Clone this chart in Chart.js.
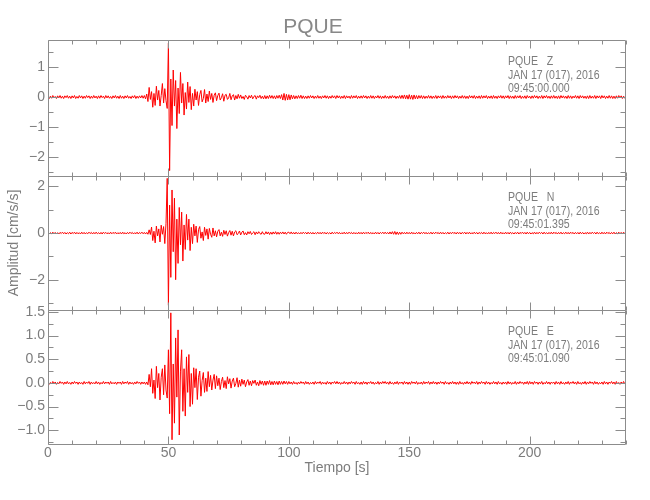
<!DOCTYPE html>
<html>
<head>
<meta charset="utf-8">
<title>PQUE</title>
<script src="https://cdn.jsdelivr.net/npm/chart.js@4.4.0/dist/chart.umd.min.js"></script>
<style>
  body { margin: 0; background: #fff; }
</style>
</head>
<body>
<canvas id="seismo-chart" width="650" height="500"></canvas>
<script>
const station = 'PQUE'
const components = ['Z', 'N', 'E']
const eventDate = 'JAN 17 (017), 2016'
const startTimes = ['09:45:00.000', '09:45:01.395', '09:45:01.090']
const sampleStep = 0.5 // seconds between samples
const timeTicks = [0, 50, 100, 150, 200]
const zTicks = [-2, -1, 0, 1]
const nTicks = [-2, 0, 2]
const eTicks = [-1, -0.5, 0, 0.5, 1, 1.5]
const zMinor = [-2.5, -1.5, -0.5, 0.5, 1.5]
const nMinor = [-3, -1, 1]
const eMinor = [-1.25, -0.75, -0.25, 0.25, 0.75, 1.25]

// acceleration, cm/s/s, one row = 10 s
const zValues = [
  .04,-.05,.03,-.04,.05,-.03,.02,-.05,.04,-.03,.05,-.04,.03,-.05,.04,-.02,.05,-.04,.03,-.05,
  .04,-.03,.05,-.05,.02,-.04,.05,-.03,.04,-.05,.03,-.04,.05,-.02,.04,-.05,.03,-.04,.05,-.03,
  .03,-.05,.04,-.04,.05,-.02,.03,-.05,.05,-.03,.04,-.04,.02,-.05,.04,-.03,.05,-.04,.03,-.05,
  .05,-.04,.03,-.05,.04,-.03,.05,-.04,.02,-.05,.04,-.03,.05,-.05,.03,-.04,.04,-.03,.05,-.04,
  .05,-.06,.1,-.15,.32,-.08,.18,-.34,.12,-.28,.36,-.1,.22,-.3,.05,.45,-.2,.28,-.12,-.38,
  1.8,-2.45,.6,-.95,.9,-.3,.55,-1.05,.3,-.55,.82,-.2,.45,-.6,.15,-.4,.5,-.18,.35,-.42,
  .12,-.3,.26,-.1,.18,-.28,.08,.22,-.16,-.05,.25,-.2,.1,-.15,.2,-.08,.12,-.18,.06,.14,
  -.12,.05,.13,-.1,-.02,.11,-.14,.06,.09,-.08,-.03,.12,-.09,.04,.08,-.1,.05,-.06,.09,-.04,
  .07,-.05,.02,-.08,.06,.01,-.07,.05,-.03,.06,-.06,.02,.05,-.07,.04,-.02,.06,-.05,.03,-.06,
  .05,-.06,.04,-.05,.06,-.04,.05,-.05,.04,-.06,.05,-.04,.06,-.05,.08,-.1,.12,-.11,.09,-.1,
  .08,-.09,.07,-.06,.05,-.06,.04,-.05,.05,-.04,.06,-.05,.04,-.05,.03,-.05,.04,-.04,.05,-.03,
  .04,-.05,.03,-.04,.05,-.04,.03,-.05,.04,-.03,.05,-.04,.04,-.05,.03,-.04,.05,-.03,.04,-.05,
  .05,-.03,.04,-.05,.03,-.04,.05,-.05,.04,-.03,.03,-.05,.05,-.04,.04,-.03,.05,-.05,.03,-.04,
  .04,-.04,.05,-.03,.04,-.05,.03,-.04,.05,-.04,.04,-.05,.03,-.03,.05,-.04,.04,-.05,.03,-.04,
  .05,-.04,.03,-.05,.04,-.04,.05,-.03,.04,-.05,.03,-.04,.05,-.05,.06,-.05,.07,-.06,.06,-.07,
  .08,-.07,.06,-.08,.07,-.06,.05,-.06,.05,-.04,.05,-.05,.04,-.05,.03,-.04,.05,-.04,.04,-.05,
  .03,-.04,.05,-.05,.04,-.03,.04,-.05,.05,-.04,.03,-.04,.05,-.03,.04,-.05,.04,-.04,.05,-.03,
  .04,-.05,.03,-.04,.05,-.04,.04,-.05,.03,-.05,.05,-.03,.04,-.04,.05,-.05,.03,-.04,.04,-.05,
  .05,-.04,.04,-.03,.05,-.05,.03,-.04,.04,-.05,.05,-.04,.03,-.05,.04,-.03,.05,-.04,.04,-.05,
  .04,-.03,.05,-.05,.04,-.04,.03,-.05,.05,-.04,.04,-.03,.05,-.05,.03,-.04,.04,-.05,.05,-.03,
  .03,-.05,.04,-.04,.05,-.03,.04,-.05,.03,-.04,.05,-.05,.04,-.03,.05,-.04,.03,-.05,.04,-.04,
  .05,-.04,.03,-.05,.04,-.05,.05,-.03,.04,-.04,.03,-.05,.05,-.04,.04,-.05,.03,-.03,.05,-.04,
  .04,-.05,.05,-.03,.04,-.04,.03,-.05,.04,-.05,.05,-.04,.03,-.04,.05,-.05,.04,-.03,.04,-.05,
  .05,-.03,.04,-.05,.03,-.04,.05,-.04,.04,-.05,.03,-.05,.04,-.04,.05,-.03,.04,-.05,.03,-.04,
  .04
]

const nValues = [
  .03,-.04,.02,-.03,.04,-.03,.03,-.04,.02,-.04,.03,-.02,.04,-.03,.03,-.04,.02,-.03,.04,-.04,
  .03,-.02,.04,-.04,.03,-.03,.02,-.04,.04,-.03,.03,-.04,.02,-.03,.04,-.02,.03,-.04,.03,-.03,
  .04,-.03,.02,-.04,.03,-.04,.04,-.02,.03,-.03,.02,-.04,.04,-.03,.03,-.02,.04,-.04,.02,-.03,
  .03,-.04,.04,-.03,.02,-.04,.03,-.03,.04,-.02,.03,-.04,.02,-.03,.04,-.04,.03,-.02,.04,-.03,
  .03,-.04,.03,-.05,.14,-.06,.26,-.32,.08,-.42,.3,-.12,.18,-.38,.34,-.05,.28,-.45,.4,2.35,
  -3.1,1.2,-1.9,1.85,-.8,1.5,-2.0,.6,-1.3,1.1,-.5,.9,-1.2,.35,-.7,.8,-.3,.6,-.75,.25,
  -.45,.38,-.12,.3,-.4,.15,.28,-.22,.05,-.32,.25,-.1,.18,-.26,.2,-.05,-.18,.22,-.12,.1,
  -.16,.08,.15,-.12,.04,-.14,.12,-.06,.1,-.13,.02,.11,-.09,.08,-.12,.05,.1,-.07,-.02,.09,
  -.08,.04,.09,-.07,.02,-.08,.06,-.03,.07,-.06,.01,.06,-.07,.05,-.04,.06,-.02,-.05,.06,-.04,
  -.05,.06,-.04,.05,-.06,.04,-.05,.05,-.04,.06,-.05,.04,-.05,.04,-.03,.05,-.04,.04,-.05,.03,
  .04,-.03,.05,-.04,.03,-.04,.04,-.03,.02,-.04,.03,-.03,.04,-.02,.03,-.04,.04,-.03,.03,-.04,
  .03,-.04,.02,-.03,.04,-.03,.03,-.04,.04,-.02,.03,-.04,.03,-.03,.02,-.04,.04,-.03,.03,-.02,
  .04,-.03,.03,-.04,.02,-.03,.04,-.04,.03,-.03,.04,-.02,.03,-.04,.03,-.03,.02,-.04,.04,-.03,
  .03,-.04,.04,-.03,.03,-.02,.04,-.04,.03,-.03,.02,-.04,.04,-.03,.03,-.04,.03,-.02,.04,-.03,
  .04,-.03,.03,-.04,.05,-.04,.06,-.05,.07,-.06,.05,-.06,.04,-.05,.04,-.03,.03,-.04,.04,-.03,
  .03,-.04,.04,-.03,.02,-.04,.03,-.03,.04,-.04,.03,-.02,.04,-.03,.03,-.04,.02,-.03,.04,-.04,
  .03,-.03,.04,-.02,.03,-.04,.04,-.03,.03,-.04,.02,-.03,.04,-.04,.03,-.03,.04,-.02,.03,-.04,
  .04,-.03,.03,-.04,.03,-.02,.04,-.04,.03,-.03,.04,-.04,.02,-.03,.04,-.03,.03,-.04,.03,-.02,
  .03,-.04,.04,-.03,.02,-.04,.03,-.03,.04,-.04,.03,-.02,.04,-.03,.03,-.04,.04,-.03,.02,-.04,
  .04,-.03,.03,-.04,.04,-.03,.02,-.04,.03,-.03,.04,-.04,.03,-.02,.04,-.03,.03,-.04,.04,-.03,
  .03,-.04,.02,-.03,.04,-.04,.03,-.03,.04,-.02,.03,-.04,.04,-.03,.02,-.04,.03,-.03,.04,-.04,
  .04,-.02,.03,-.04,.03,-.03,.04,-.04,.02,-.03,.04,-.03,.03,-.04,.04,-.02,.03,-.04,.03,-.03,
  .03,-.04,.04,-.03,.03,-.04,.02,-.03,.04,-.04,.03,-.03,.04,-.02,.03,-.04,.04,-.03,.02,-.04,
  .04,-.03,.03,-.04,.04,-.02,.03,-.04,.03,-.03,.04,-.04,.02,-.03,.04,-.03,.03,-.04,.04,-.03,
  .03
]

const eValues = [
  .02,-.03,.01,-.02,.03,-.02,.02,-.03,.01,-.02,.03,-.01,.02,-.03,.02,-.02,.03,-.02,.01,-.03,
  .02,-.02,.03,-.01,.02,-.03,.02,-.02,.01,-.03,.03,-.02,.02,-.01,.03,-.03,.02,-.02,.01,-.02,
  .03,-.02,.02,-.03,.01,-.02,.03,-.02,.02,-.01,.02,-.03,.03,-.02,.01,-.02,.02,-.03,.02,-.01,
  .02,-.03,.03,-.02,.02,-.01,.03,-.03,.02,-.02,.01,-.03,.02,-.02,.03,-.01,.02,-.03,.02,-.02,
  .02,-.03,.02,-.04,.18,-.08,.3,-.22,.06,-.33,.35,-.1,.2,-.36,.12,.3,-.25,.38,-.15,-.32,
  .7,-.65,1.48,-1.2,.4,-.85,.95,-.3,1.12,-1.1,.25,.7,-.6,.3,-.7,.55,-.2,.6,-.5,.2,
  -.45,.32,-.1,.3,-.35,.12,.25,-.28,.05,.22,-.2,.1,-.18,.24,-.08,.16,-.15,.06,.18,-.12,
  .15,-.06,.1,-.14,.03,.12,-.1,.05,-.12,.13,-.02,.09,-.11,.04,.1,-.08,-.01,.11,-.09,.06,
  -.07,.08,-.03,.06,-.08,.02,.07,-.05,.04,-.06,.05,-.01,.06,-.05,.02,-.06,.05,-.03,.04,-.05,
  .04,-.05,.04,-.03,.05,-.04,.03,-.04,.04,-.03,.03,-.04,.04,-.03,.03,-.03,.04,-.02,.03,-.03,
  .03,-.02,.02,-.03,.03,-.02,.01,-.03,.02,-.02,.03,-.01,.02,-.03,.03,-.02,.02,-.03,.01,-.02,
  .02,-.03,.03,-.02,.02,-.01,.03,-.03,.02,-.02,.01,-.03,.03,-.02,.02,-.03,.02,-.01,.03,-.02,
  .03,-.02,.02,-.03,.01,-.02,.03,-.02,.02,-.03,.02,-.02,.03,-.01,.02,-.03,.03,-.02,.01,-.03,
  .02,-.03,.03,-.02,.02,-.03,.02,-.01,.03,-.02,.02,-.03,.01,-.02,.03,-.03,.02,-.02,.03,-.01,
  .03,-.02,.02,-.03,.03,-.02,.01,-.03,.02,-.02,.03,-.03,.02,-.01,.02,-.03,.03,-.02,.02,-.03,
  .02,-.03,.03,-.01,.02,-.02,.03,-.03,.01,-.02,.02,-.03,.03,-.02,.02,-.01,.03,-.03,.02,-.02,
  .03,-.02,.02,-.03,.02,-.02,.03,-.01,.02,-.03,.03,-.02,.01,-.03,.02,-.02,.03,-.02,.02,-.03,
  .02,-.03,.03,-.02,.01,-.03,.02,-.02,.03,-.02,.02,-.03,.03,-.01,.02,-.02,.03,-.03,.02,-.02,
  .03,-.01,.02,-.03,.03,-.02,.02,-.03,.01,-.02,.03,-.02,.02,-.03,.03,-.02,.01,-.03,.02,-.02,
  .02,-.03,.03,-.02,.02,-.03,.01,-.02,.03,-.03,.02,-.02,.03,-.01,.02,-.03,.02,-.02,.03,-.03,
  .03,-.02,.02,-.03,.03,-.01,.02,-.03,.02,-.02,.03,-.03,.01,-.02,.03,-.02,.02,-.03,.02,-.01,
  .02,-.03,.03,-.02,.02,-.03,.03,-.02,.01,-.03,.02,-.02,.03,-.03,.02,-.01,.03,-.02,.02,-.03,
  .03,-.02,.01,-.03,.02,-.02,.03,-.03,.02,-.02,.03,-.01,.02,-.03,.03,-.02,.02,-.03,.01,-.02,
  .02,-.03,.03,-.02,.02,-.03,.02,-.01,.03,-.02,.02,-.03,.03,-.02,.01,-.03,.02,-.02,.03,-.02,
  .02
]

const FONT = "'Liberation Sans Narrow', 'Liberation Sans', sans-serif"
const GRAY = '#8c8c8c'
const TEXT = '#7c7c7c'

function toPoints(values) {
    return values.map((v, i) => ({ x: i * sampleStep, y: v }))
}

function fmt(digits) {
    return v => (digits ? v.toFixed(digits) : String(v)).replace('-', '\u2212')
}

function yScale(ticks, min, max, stackWeight, weight, digits, title) {
    return {
        type: 'linear',
        position: 'left',
        stack: 'panels',
        stackWeight,
        weight,
        min,
        max,
        afterFit(scale) { scale.width = 48 },
        afterBuildTicks(scale) { scale.ticks = ticks.map(v => ({ value: v })) },
        grid: { display: false, drawTicks: false },
        border: { display: false },
        ticks: {
            padding: 3, autoSkip: false, color: TEXT,
            font: { family: FONT, size: 14 }, callback: fmt(digits)
        },
        title: title ? {
            display: true, text: title, color: TEXT,
            font: { family: FONT, size: 14 }, padding: { top: 6, bottom: 0 }
        } : { display: false }
    }
}

const panels = [
    { axis: 'yZ', major: zTicks, minor: zMinor },
    { axis: 'yN', major: nTicks, minor: nMinor },
    { axis: 'yE', major: eTicks, minor: eMinor }
]

function narrowText(ctx, text, x, y) {
    ctx.save()
    ctx.translate(x, y)
    ctx.scale(0.88, 1)
    ctx.fillText(text, 0, 0)
    ctx.restore()
}

const frameTicks = {
    id: 'frameTicks',
    afterDraw(chart) {
        const { ctx, chartArea, scales } = chart
        const xs = scales.x
        const px = v => Math.round(v) + 0.5
        const left = px(chartArea.left)
        const right = px(chartArea.right - 1)
        ctx.save()
        ctx.strokeStyle = GRAY
        ctx.lineWidth = 1
        ctx.beginPath()
        panels.forEach(p => {
            const s = scales[p.axis]
            const top = px(s.top)
            const bottom = px(s.bottom)
            ctx.rect(left, top, right - left, bottom - top)
            for (let t = 0; t <= 240; t += 10) {
                const x = px(xs.getPixelForValue(t))
                const len = t % 50 === 0 ? 8 : 4
                ctx.moveTo(x, top); ctx.lineTo(x, top + len)
                ctx.moveTo(x, bottom); ctx.lineTo(x, bottom - len)
            }
            p.major.concat(p.minor).forEach(v => {
                const y = px(s.getPixelForValue(v))
                const len = p.major.includes(v) ? 10 : 5
                ctx.moveTo(left, y); ctx.lineTo(left + len, y)
                ctx.moveTo(right, y); ctx.lineTo(right - len, y)
            })
        })
        ctx.stroke()

        ctx.fillStyle = TEXT
        ctx.font = '12px ' + FONT
        ctx.textBaseline = 'middle'
        ctx.textAlign = 'left'
        panels.forEach((p, i) => {
            const s = scales[p.axis]
            const tx = chartArea.right - 118
            narrowText(ctx, station + '   ' + components[i], tx, s.top + 22)
            narrowText(ctx, eventDate, tx, s.top + 35.5)
            narrowText(ctx, startTimes[i], tx, s.top + 49)
        })
        ctx.restore()
    }
}

const ctx = document.getElementById('seismo-chart')

const lineStyle = { borderColor: '#ff0000', borderWidth: 1, pointRadius: 0, tension: 0 }

new Chart(ctx, {
    type: 'line',
    data: {
        datasets: [
            { label: components[0], data: toPoints(zValues), yAxisID: 'yZ', ...lineStyle },
            { label: components[1], data: toPoints(nValues), yAxisID: 'yN', ...lineStyle },
            { label: components[2], data: toPoints(eValues), yAxisID: 'yE', ...lineStyle }
        ]
    },
    options: {
        responsive: false,
        animation: false,
        parsing: false,
        normalized: true,
        layout: { padding: { top: 0, right: 24, bottom: 0, left: 0 } },
        plugins: {
            legend: { display: false },
            tooltip: { enabled: false },
            title: {
                display: true,
                text: station,
                color: '#888',
                font: { family: FONT, size: 21, weight: 'normal', lineHeight: 1 },
                padding: { top: 17, bottom: 2 }
            }
        },
        scales: {
            x: {
                type: 'linear',
                min: 0,
                max: 240,
                afterFit(scale) { scale.height = 56 },
                afterBuildTicks(scale) { scale.ticks = timeTicks.map(v => ({ value: v })) },
                grid: { display: false, drawTicks: false },
                border: { display: false },
                ticks: { padding: 1, maxRotation: 0, autoSkip: false, color: TEXT, font: { family: FONT, size: 14 } },
                title: {
                    display: true, text: 'Tiempo [s]', color: TEXT,
                    font: { family: FONT, size: 14 }, padding: { top: 0, bottom: 23 }
                }
            },
            yZ: yScale(zTicks, -2.63, 1.9, 136, 3, 0),
            yN: yScale(nTicks, -3.3, 2.45, 134, 2, 0, 'Amplitud [cm/s/s]'),
            yE: yScale(eTicks, -1.29, 1.54, 134, 1, 1)
        }
    },
    plugins: [frameTicks]
})
</script>
</body>
</html>
